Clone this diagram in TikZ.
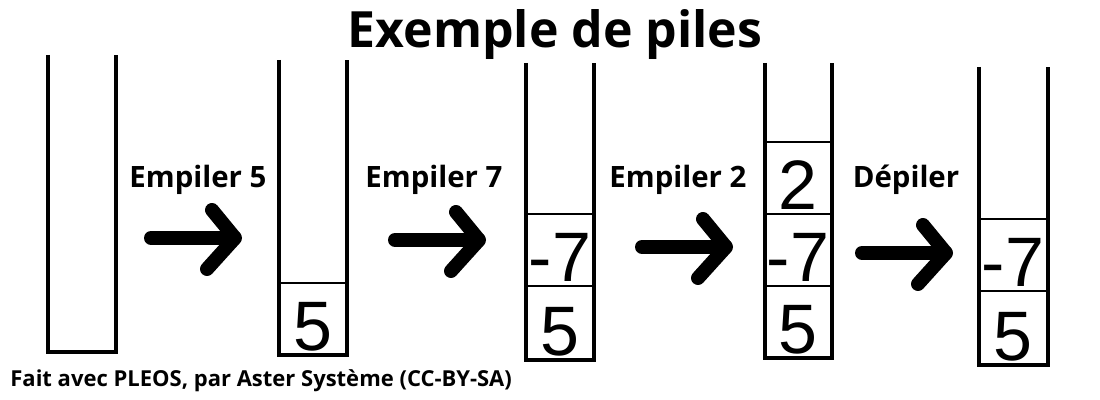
\documentclass[tikz,border=0pt]{standalone}
\usepackage{fontspec}
\setmainfont{Open Sans}
\newfontfamily\chiffres{Liberation Sans}
\tikzset{
  pile/.style={line width=2pt},
  case/.style={line width=1pt},
  fleche/.style={line width=7pt, line cap=round, line join=bevel},
  etiquette/.style={font=\bfseries\fontsize{14.7}{17}\selectfont, anchor=base, inner sep=0pt},
  valeur/.style={font=\chiffres\fontsize{35}{40}\selectfont, anchor=base, inner sep=0pt},
}
\begin{document}
\begin{tikzpicture}[x=0.5pt, y=-0.5pt]
    \useasboundingbox (0, 0) rectangle (1100, 400);
    \node[anchor=base, inner sep=0pt, font=\bfseries\fontsize{25}{29}\selectfont]
        (titre) at (555, 48) {Exemple de piles};
    % piles
    \draw[pile] (48, 55) -- (48, 352) -- (116, 352) -- (116, 55);
    \draw[pile] (279, 60) -- (279, 355) -- (347, 355) -- (347, 60);
    \draw[case] (279, 283) -- (347, 283);
    \draw[pile] (526, 63) -- (526, 360) -- (594, 360) -- (594, 63);
    \draw[case] (526, 214) -- (594, 214);
    \draw[case] (526, 286) -- (594, 286);
    \draw[pile] (765, 63) -- (765, 358) -- (832, 358) -- (832, 63);
    \draw[case] (765, 142) -- (832, 142);
    \draw[case] (765, 214) -- (832, 214);
    \draw[case] (765, 286) -- (832, 286);
    \draw[pile] (979, 67) -- (979, 365) -- (1048, 365) -- (1048, 67);
    \draw[case] (979, 219) -- (1048, 219);
    \draw[case] (979, 291) -- (1048, 291);
    % valeurs
    \node[valeur] (v2a) at (313, 351) {5};
    \node[valeur] (v3a) at (560, 356) {5};
    \node[valeur] (v3b) at (560, 282) {-7};
    \node[valeur] (v4a) at (798, 354) {5};
    \node[valeur] (v4b) at (798, 282) {-7};
    \node[valeur] (v4c) at (798, 210) {2};
    \node[valeur] (v5a) at (1013, 361) {5};
    \node[valeur] (v5b) at (1013, 287) {-7};
    % operations
    \node[etiquette] (op1) at (198, 188) {Empiler 5};
    \node[etiquette] (op2) at (434, 188) {Empiler 7};
    \node[etiquette] (op3) at (678, 188) {Empiler 2};
    \node[etiquette] (op4) at (906, 188) {Dépiler};
    \coordinate (f1) at (235, 238);
    \coordinate (f2) at (479, 240);
    \coordinate (f3) at (726, 247);
    \coordinate (f4) at (946, 253);
    \foreach \f in {f1, f2, f3, f4} {
        \draw[fleche] (\f) -- ++(-84, 0);
        \draw[fleche] (\f) ++(-23, -28) -- (\f) -- ++(-28, 31);
    }
    \node[anchor=base west, inner sep=0pt, font=\bfseries\fontsize{11}{13}\selectfont]
        (credit) at (10, 387) {Fait avec PLEOS, par Aster Système (CC-BY-SA)};
\end{tikzpicture}
\end{document}
